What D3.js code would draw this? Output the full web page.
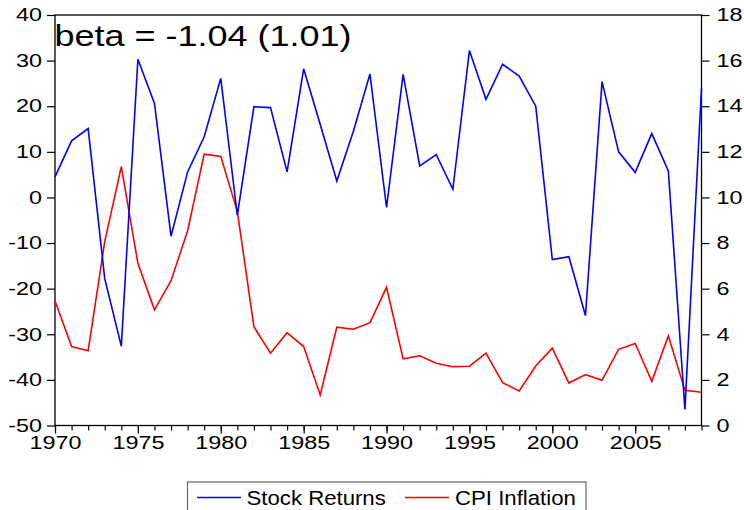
<!DOCTYPE html>
<html>
<head>
<meta charset="utf-8">
<script src="https://cdn.jsdelivr.net/npm/d3@7/dist/d3.min.js"></script>
<style>
  html, body { margin: 0; padding: 0; background: #fff; }
  svg { display: block; }
  text { font-family: "Liberation Sans", Arial, sans-serif; fill: #000; }
</style>
</head>
<body>
<svg id="chart" width="744" height="510"></svg>
<script>
const years = d3.range(1970, 2010);
const stockReturns = [4.5, 12.4, 15.1, -17.8, -32.6, 30.3, 20.6, -8.5, 5.6, 13.3,
  26.1, -3.9, 19.9, 19.7, 5.6, 28.2, 16.0, 3.6, 14.5, 27.05,
  -2.2, 27.0, 6.9, 9.4, 1.8, 32.2, 21.5, 29.2, 26.6, 20.0,
  -13.6, -13.0, -25.9, 25.4, 10.0, 5.5, 14.0, 5.8, -46.5, 23.9];
const cpiInflation = [5.47, 3.46, 3.28, 8.06, 11.35, 7.11, 5.07, 6.35, 8.54, 11.9,
  11.8, 9.38, 4.33, 3.17, 4.07, 3.46, 1.34, 4.31, 4.22, 4.51,
  6.06, 2.92, 3.06, 2.73, 2.58, 2.6, 3.17, 1.88, 1.51, 2.61,
  3.39, 1.86, 2.23, 1.98, 3.34, 3.6, 1.94, 3.93, 1.54, 1.46];
const leftTicks = [-50, -40, -30, -20, -10, 0, 10, 20, 30, 40];
const rightTicks = [0, 2, 4, 6, 8, 10, 12, 14, 16, 18];
const xLabelTicks = [1970, 1975, 1980, 1985, 1990, 1995, 2000, 2005];
const seriesNames = ["Stock Returns", "CPI Inflation"];
const annotation = "beta = -1.04 (1.01)";

const svg = d3.select("#chart");
const L = 55, R = 701.5, T = 15, B = 425.5;
const x = d3.scaleLinear().domain([1970, 2009]).range([L, R]);
const yL = d3.scaleLinear().domain([-50, 40]).range([B, T]);
const yR = d3.scaleLinear().domain([0, 18]).range([B, T]);

const SX = 1.3;
function stretch(sel, sx) {
  sel.each(function() {
    const t = d3.select(this);
    const tx = +t.attr("x") || 0, ty = +t.attr("y") || 0;
    t.attr("x", 0).attr("y", 0).attr("transform", `translate(${tx},${ty}) scale(${sx},1)`);
  });
}

// axes
const gL = svg.append("g").attr("transform", `translate(${L},0)`)
  .call(d3.axisLeft(yL).tickValues(leftTicks).tickSize(8).tickPadding(5).tickFormat(d => String(d)));
const gR = svg.append("g").attr("transform", `translate(${R},0)`)
  .call(d3.axisRight(yR).tickValues(rightTicks).tickSize(8).tickPadding(7).tickFormat(d => String(d)));
const gXm = svg.append("g").attr("transform", `translate(0,${B})`)
  .call(d3.axisBottom(x).tickValues(years).tickSize(5).tickFormat(""));
const gX = svg.append("g").attr("transform", `translate(0,${B})`)
  .call(d3.axisBottom(x).tickValues(xLabelTicks).tickSize(8).tickPadding(3).tickFormat(d => String(d)));

[gL, gR, gXm, gX].forEach(g => {
  g.select(".domain").remove();
  g.selectAll(".tick line").attr("stroke", "#000").attr("stroke-width", 1.2);
  g.selectAll("text").attr("font-size", 18).attr("font-family", "Liberation Sans, Arial, sans-serif").attr("fill", "#000");
});
stretch(gL.selectAll("text"), SX);
stretch(gR.selectAll("text"), SX);
stretch(gX.selectAll("text"), SX);

// frame
svg.append("rect").attr("x", L).attr("y", T).attr("width", R - L).attr("height", B - T)
  .attr("fill", "none").attr("stroke", "#000").attr("stroke-width", 1.3);

// lines
const lineL = d3.line().x((d, i) => x(years[i])).y(d => yL(d));
const lineR = d3.line().x((d, i) => x(years[i])).y(d => yR(d));
svg.append("path").datum(cpiInflation).attr("d", lineR)
  .attr("fill", "none").attr("stroke", "#ff0000").attr("stroke-width", 1.6);
svg.append("path").datum(stockReturns).attr("d", lineL)
  .attr("fill", "none").attr("stroke", "#0000ff").attr("stroke-width", 1.6);

// annotation
svg.append("text").attr("font-size", 30)
  .attr("transform", `translate(54.5,46) scale(1.2,1)`).text(annotation);

// legend
const lg = svg.append("g");
lg.append("rect").attr("x", 187.5).attr("y", 482).attr("width", 398.5).attr("height", 40)
  .attr("fill", "#fff").attr("stroke", "#666").attr("stroke-width", 1.2);
const colors = ["#0000ff", "#ff0000"];
const lx = [197, 405], tx = [246.5, 455];
seriesNames.forEach((n, i) => {
  lg.append("line").attr("x1", lx[i]).attr("x2", lx[i] + 44).attr("y1", 497.5).attr("y2", 497.5)
    .attr("stroke", colors[i]).attr("stroke-width", 1.3);
  lg.append("text").attr("font-size", 20)
    .attr("transform", `translate(${tx[i]},504.5) scale(1.11,1)`).text(n);
});
</script>
</body>
</html>
